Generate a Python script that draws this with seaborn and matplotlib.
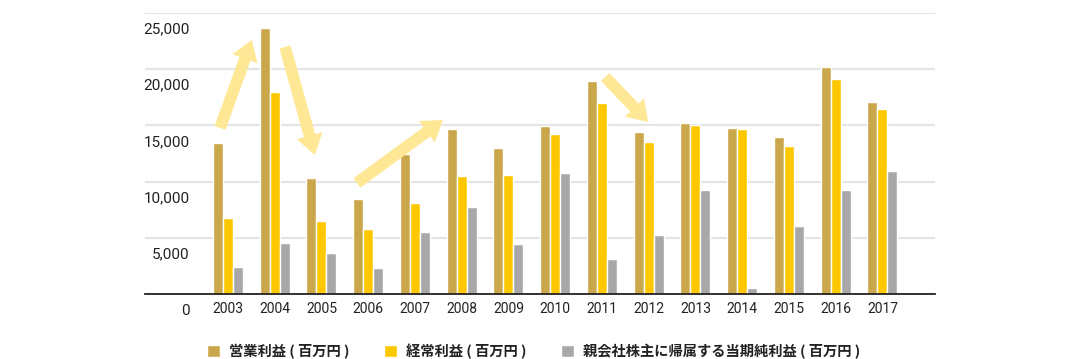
import matplotlib
matplotlib.use("Agg")
import matplotlib.pyplot as plt
import matplotlib.transforms as mtransforms
import seaborn as sns
import pandas as pd

sns.set_theme(style="white")
plt.rcParams["font.family"] = ["Roboto", "Noto Sans CJK JP", "DejaVu Sans"]

years = [str(y) for y in range(2003, 2018)]
operating = [13460, 23640, 10290, 8480, 12460, 14650, 12990, 14950,
             18950, 14440, 15180, 14770, 13970, 20170, 17050]
ordinary = [6760, 17970, 6500, 5780, 8100, 10500, 10590, 14240,
            16960, 13550, 15040, 14650, 13170, 19160, 16460]
net_income = [2400, 4510, 3680, 2280, 5490, 7770, 4480, 10770,
              3080, 5250, 9250, 530, 6080, 9250, 10970]
series_names = ["営業利益 ( 百万円 )", "経常利益 ( 百万円 )",
                "親会社株主に帰属する当期純利益 ( 百万円 )"]
colors = ["#C9A74A", "#FDC800", "#A8A8A8"]
y_ticks = [0, 5000, 10000, 15000, 20000, 25000]

# trend arrows: (x index, value) tail -> head
arrows = [((-0.17, 14770), (0.51, 22600)),
          ((1.22, 21975), (1.86, 12370)),
          ((2.76, 9880), (4.60, 15480)),
          ((8.07, 19300), (8.99, 15300))]

df = pd.DataFrame({
    "year": years * 3,
    "value": operating + ordinary + net_income,
    "series": [series_names[0]] * 15 + [series_names[1]] * 15 + [series_names[2]] * 15,
})

fig = plt.figure(figsize=(10.8, 3.59), dpi=100)
ax = fig.add_axes([0.134, 0.181, 0.732, 0.783])

sns.barplot(data=df, x="year", y="value", hue="series", palette=colors,
            width=0.64, saturation=1, ax=ax, zorder=3)

ax.set_xlim(-1.78, 15.13)
ax.set_ylim(0, 25000)
ax.set_yticks(y_ticks)
ax.set_yticklabels([f"{v:,}" for v in y_ticks])
ax.grid(axis="y", color="#E4E4E4", lw=1.5, zorder=0)
ax.set_xlabel("")
ax.set_ylabel("")
for s in ["top", "right", "left"]:
    ax.spines[s].set_visible(False)
ax.spines["bottom"].set_color("#222222")
ax.spines["bottom"].set_linewidth(1.3)
ax.spines["bottom"].set_zorder(4)

ax.tick_params(axis="y", length=0, pad=-32.5, labelsize=11, labelcolor="#222222")
ax.tick_params(axis="x", length=0, pad=6, labelsize=10, labelcolor="#222222")
offset = mtransforms.ScaledTranslation(0, -0.15, fig.dpi_scale_trans)
for lab in ax.get_yticklabels():
    lab.set_transform(lab.get_transform() + offset)

for tail, head in arrows:
    ax.annotate("", xy=head, xytext=tail,
                arrowprops=dict(arrowstyle="simple,head_length=1.2,head_width=1.6,tail_width=0.7",
                                color="#FEE896", lw=0, shrinkA=0, shrinkB=0,
                                mutation_scale=12),
                zorder=5)

sns.move_legend(ax, "center", bbox_to_anchor=(0.494, 0.022),
                bbox_transform=fig.transFigure, ncol=3, frameon=False,
                title=None, handlelength=0.95, handleheight=0.95,
                handletextpad=0.6, columnspacing=2.4,
                prop={"family": ["Noto Sans CJK JP", "DejaVu Sans"],
                      "size": 10.3, "weight": "bold"})
for t in ax.get_legend().get_texts():
    t.set_color("#222222")

fig.savefig("out.png", dpi=100)
